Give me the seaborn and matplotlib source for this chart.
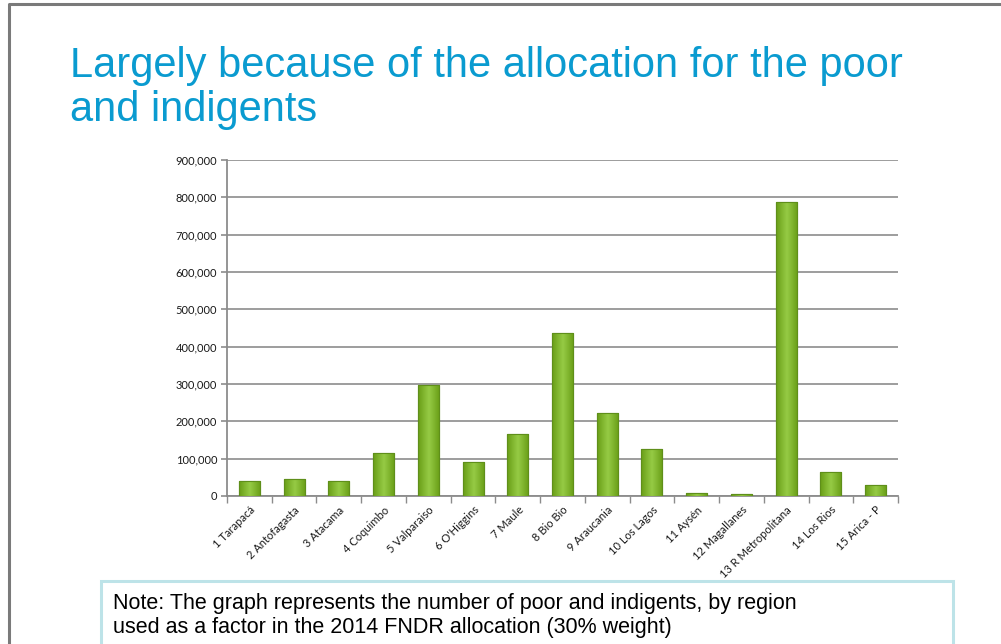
import numpy as np
import pandas as pd
import matplotlib
matplotlib.use("Agg")
import matplotlib.pyplot as plt
import seaborn as sns
from matplotlib.patches import Rectangle
from matplotlib.colors import LinearSegmentedColormap
from matplotlib.ticker import FuncFormatter, FixedLocator

# Poor and indigent population by region (FNDR 2014 allocation factor)
regions = ["1 Tarapacá", "2 Antofagasta", "3 Atacama", "4 Coquimbo", "5 Valparaiso",
           "6 O'Higgins", "7 Maule", "8 Bio Bio", "9 Araucania", "10 Los Lagos",
           "11 Aysén", "12 Magallanes", "13 R Metropolitana", "14 Los Rios", "15 Arica - P"]
poor_indigents = [41000, 46000, 41000, 114000, 298000,
                  92000, 165000, 437000, 222000, 127000,
                  7000, 6000, 787000, 65000, 30000]
y_ticks = [0, 100000, 200000, 300000, 400000, 500000, 600000, 700000, 800000, 900000]

title_lines = ["Largely because of the allocation for the poor", "and indigents"]
note_lines = ["Note: The graph represents the number of poor and indigents, by region",
              "used as a factor in the 2014 FNDR allocation (30% weight)"]

sns.set_theme(style="white")
plt.rcParams["font.family"] = ["Liberation Sans", "DejaVu Sans"]

W, H = 1001, 644
fig = plt.figure(figsize=(W / 100, H / 100), dpi=100)
fig.patch.set_facecolor("white")

# slide frame (top and left edges)
fig.add_artist(plt.Line2D([9 / W, 9 / W, 1.0], [0.0, 1 - 4 / H, 1 - 4 / H],
                          transform=fig.transFigure, color="#7a7a7a", lw=2.2))

ax = fig.add_axes([227 / W, 1 - 496 / H, (898 - 227) / W, (496 - 160) / H])
df = pd.DataFrame({"region": regions, "value": poor_indigents})
sns.barplot(data=df, x="region", y="value", color="#86bd32", width=0.47,
            edgecolor="#5f8f1a", linewidth=0.8, ax=ax, zorder=3)

# green gradient fill: lighter in the middle of each bar, darker along its sides
green = LinearSegmentedColormap.from_list("grn", ["#699e17", "#96cb45", "#699e17"])
grad = np.tile(np.linspace(0, 1, 64), (2, 1))
for p in ax.patches:
    x0, y0 = p.get_x(), p.get_y()
    w, h = p.get_width(), p.get_height()
    im = ax.imshow(grad, cmap=green, aspect="auto", extent=(x0, x0 + w, y0, y0 + h),
                   zorder=3.5, interpolation="bicubic")
    im.set_clip_path(p)
    ax.add_patch(Rectangle((x0, y0), w, h, fill=False, edgecolor="#5f8f1a",
                           linewidth=0.8, zorder=4))

ax.set_xlim(-0.5, len(regions) - 0.5)
ax.set_ylim(0, 900000)
ax.set_yticks(y_ticks)
ax.yaxis.set_major_formatter(FuncFormatter(lambda v, _: f"{int(v):,}"))
ax.grid(axis="y", color="#8c8c8c", linewidth=1.2, zorder=0)
ax.set_axisbelow(True)
ax.set_xlabel("")
ax.set_ylabel("")

for s in ["top", "right"]:
    ax.spines[s].set_visible(False)
for s in ["left", "bottom"]:
    ax.spines[s].set_color("#8c8c8c")
    ax.spines[s].set_linewidth(1.3)

tick_font = ["Lato", "DejaVu Sans"]
ax.tick_params(axis="y", which="major", length=4, width=1.2, color="#8c8c8c",
               labelsize=8, pad=3, left=True)
ax.set_xticks(range(len(regions)))
ax.set_xticklabels(regions, rotation=45, ha="right", rotation_mode="anchor")
ax.tick_params(axis="x", which="major", length=0, labelsize=8, pad=6)
ax.xaxis.set_minor_locator(FixedLocator(np.arange(-0.5, len(regions), 1.0)))
ax.tick_params(axis="x", which="minor", length=5, width=1.0, color="#8c8c8c", bottom=True)
for lab in ax.get_xticklabels() + ax.get_yticklabels():
    lab.set_family(tick_font)
    lab.set_color("#1a1a1a")

# title
fig.text(70 / W, 1 - 77 / H, title_lines[0], fontsize=30, color="#0a9bd0",
         va="baseline", ha="left")
fig.text(70 / W, 1 - 121 / H, title_lines[1], fontsize=30, color="#0a9bd0",
         va="baseline", ha="left")

# note box
box = Rectangle((101 / W, -0.05), (953 - 101) / W, (1 - 581 / H) + 0.05,
                transform=fig.transFigure, facecolor="white", edgecolor="#bde3e8",
                linewidth=2.2, zorder=10)
fig.add_artist(box)
fig.text(113 / W, 1 - 609 / H, note_lines[0], fontsize=15.5, color="black",
         va="baseline", ha="left", zorder=11)
fig.text(113 / W, 1 - 633 / H, note_lines[1], fontsize=15.5, color="black",
         va="baseline", ha="left", zorder=11)

fig.savefig("out.png", dpi=100, facecolor="white")
